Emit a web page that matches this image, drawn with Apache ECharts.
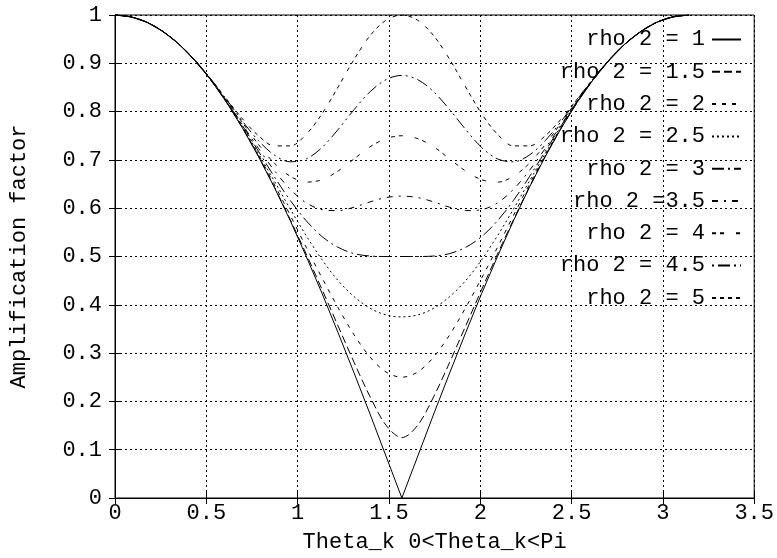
<!DOCTYPE html>
<html><head><meta charset="utf-8">
<script src="https://cdn.jsdelivr.net/npm/echarts@6/dist/echarts.min.js"></script>
<style>html,body{margin:0;padding:0;background:#fff}#c{width:777px;height:558px}</style>
</head><body><div id="c"></div>
<script>
// theta samples (radians, 0 .. pi)
const theta = [0, 0.0873, 0.1745, 0.2618, 0.3491, 0.4363, 0.5236, 0.6109, 0.6981, 0.7854, 0.8727, 0.9599, 1.0472, 1.1345, 1.2217, 1.3090, 1.3963, 1.4835, 1.5708, 1.6581, 1.7453, 1.8326, 1.9199, 2.0071, 2.0944, 2.1817, 2.2689, 2.3562, 2.4435, 2.5307, 2.6180, 2.7053, 2.7925, 2.8798, 2.9671, 3.0543, 3.1416];

const rho1  = [1, 0.996, 0.985, 0.966, 0.940, 0.906, 0.866, 0.819, 0.766, 0.707, 0.643, 0.574, 0.500, 0.423, 0.342, 0.259, 0.174, 0.087, 0, 0.087, 0.174, 0.259, 0.342, 0.423, 0.500, 0.574, 0.643, 0.707, 0.766, 0.819, 0.866, 0.906, 0.940, 0.966, 0.985, 0.996, 1];
const rho15 = [1, 0.996, 0.985, 0.966, 0.940, 0.906, 0.866, 0.819, 0.766, 0.708, 0.644, 0.576, 0.505, 0.431, 0.356, 0.281, 0.210, 0.151, 0.125, 0.151, 0.210, 0.281, 0.356, 0.431, 0.505, 0.576, 0.644, 0.708, 0.766, 0.819, 0.866, 0.906, 0.940, 0.966, 0.985, 0.996, 1];
const rho2  = [1, 0.996, 0.985, 0.966, 0.940, 0.906, 0.866, 0.820, 0.767, 0.710, 0.649, 0.585, 0.519, 0.455, 0.394, 0.338, 0.292, 0.261, 0.250, 0.261, 0.292, 0.338, 0.394, 0.455, 0.519, 0.585, 0.649, 0.710, 0.767, 0.820, 0.866, 0.906, 0.940, 0.966, 0.985, 0.996, 1];
const rho25 = [1, 0.996, 0.985, 0.966, 0.940, 0.906, 0.866, 0.820, 0.769, 0.713, 0.656, 0.598, 0.543, 0.493, 0.450, 0.417, 0.393, 0.379, 0.375, 0.379, 0.393, 0.417, 0.450, 0.493, 0.543, 0.598, 0.656, 0.713, 0.769, 0.820, 0.866, 0.906, 0.940, 0.966, 0.985, 0.996, 1];
const rho3  = [1, 0.996, 0.985, 0.966, 0.940, 0.906, 0.867, 0.821, 0.771, 0.718, 0.665, 0.616, 0.574, 0.541, 0.519, 0.506, 0.501, 0.500, 0.500, 0.500, 0.501, 0.506, 0.519, 0.541, 0.574, 0.616, 0.665, 0.718, 0.771, 0.821, 0.867, 0.906, 0.940, 0.966, 0.985, 0.996, 1];
const rho35 = [1, 0.996, 0.985, 0.966, 0.940, 0.907, 0.867, 0.822, 0.773, 0.724, 0.678, 0.639, 0.611, 0.597, 0.595, 0.602, 0.613, 0.622, 0.625, 0.622, 0.613, 0.602, 0.595, 0.597, 0.611, 0.639, 0.678, 0.724, 0.773, 0.822, 0.867, 0.907, 0.940, 0.966, 0.985, 0.996, 1];
const rho4  = [1, 0.996, 0.985, 0.966, 0.940, 0.907, 0.867, 0.823, 0.777, 0.732, 0.693, 0.666, 0.654, 0.659, 0.677, 0.702, 0.727, 0.744, 0.750, 0.744, 0.727, 0.702, 0.677, 0.659, 0.654, 0.666, 0.693, 0.732, 0.777, 0.823, 0.867, 0.907, 0.940, 0.966, 0.985, 0.996, 1];
const rho45 = [1, 0.996, 0.985, 0.966, 0.940, 0.907, 0.868, 0.825, 0.780, 0.740, 0.710, 0.696, 0.702, 0.726, 0.763, 0.804, 0.841, 0.866, 0.875, 0.866, 0.841, 0.804, 0.763, 0.726, 0.702, 0.696, 0.710, 0.740, 0.780, 0.825, 0.868, 0.907, 0.940, 0.966, 0.985, 0.996, 1];
const rho5  = [1, 0.996, 0.985, 0.966, 0.940, 0.907, 0.868, 0.826, 0.785, 0.750, 0.729, 0.729, 0.753, 0.796, 0.851, 0.908, 0.957, 0.989, 1, 0.989, 0.957, 0.908, 0.851, 0.796, 0.753, 0.729, 0.729, 0.750, 0.785, 0.826, 0.868, 0.907, 0.940, 0.966, 0.985, 0.996, 1];

const seriesNames = ['rho 2 = 1', 'rho 2 = 1.5', 'rho 2 = 2', 'rho 2 = 2.5', 'rho 2 = 3', 'rho 2 =3.5', 'rho 2 = 4', 'rho 2 = 4.5', 'rho 2 = 5'];
const seriesValues = [rho1, rho15, rho2, rho25, rho3, rho35, rho4, rho45, rho5];

const xTitle = 'Theta_k 0<Theta_k<Pi';
const yTitle = 'Amplification factor';

// line dash patterns (gnuplot-like)
const dashStyles = ['solid', [8, 4], [4, 6], [2, 3], [12, 4, 2, 4], [6, 6, 2, 6], [4, 4, 4, 12], [2, 4, 12, 4, 2, 4], [4, 4, 4, 4, 4, 4, 4, 8]];

const FONT = 'Liberation Mono';
const chart = echarts.init(document.getElementById('c'), null, {renderer: 'canvas'});

const series = seriesValues.map((vals, i) => ({
  name: seriesNames[i],
  type: 'line',
  data: theta.map((t, j) => [t, vals[j]]),
  symbol: 'none',
  smooth: i === 0 ? false : 0.33,
  lineStyle: { color: '#000', width: 1, type: dashStyles[i] },
  itemStyle: { color: '#000' },
  animation: false,
  z: 3
}));

const axisCommonX = { type: 'value', min: 0, max: 3.5, interval: 0.5 };
const axisCommonY = { type: 'value', min: 0, max: 1, interval: 0.1 };

chart.setOption({
  backgroundColor: '#fff',
  animation: false,
  grid: { left: 115, right: 22, top: 15, bottom: 60, show: true, borderColor: '#000', borderWidth: 1, backgroundColor: 'transparent' },
  legend: {
    data: seriesNames,
    orient: 'vertical',
    align: 'right',
    right: 35,
    top: 28.5,
    padding: 0,
    itemGap: 10.3,
    itemWidth: 29,
    itemHeight: 14,
    textStyle: { fontFamily: FONT, fontSize: 22, color: '#000', lineHeight: 22, padding: [0, 2, 0, 0] },
    itemStyle: { opacity: 0 },
    selectedMode: false
  },
  xAxis: [
    Object.assign({}, axisCommonX, {
      position: 'bottom',
      name: xTitle, nameLocation: 'middle', nameGap: 33,
      nameTextStyle: { fontFamily: FONT, fontSize: 22, color: '#000' },
      axisLine: { show: true, lineStyle: { color: '#000', width: 1 } },
      axisTick: { show: true, inside: true, length: 6, lineStyle: { color: '#000' } },
      axisLabel: { fontFamily: FONT, fontSize: 22, color: '#000', margin: 4 },
      splitLine: { show: true, lineStyle: { color: '#000', width: 1, type: [2, 3] } }
    }),
    Object.assign({}, axisCommonX, {
      position: 'top',
      axisLine: { show: true, lineStyle: { color: '#000', width: 1 } },
      axisTick: { show: true, inside: true, length: 6, lineStyle: { color: '#000' } },
      axisLabel: { show: false },
      splitLine: { show: false }
    })
  ],
  yAxis: [
    Object.assign({}, axisCommonY, {
      position: 'left',
      name: yTitle, nameLocation: 'middle', nameGap: 85, nameRotate: 90,
      nameTextStyle: { fontFamily: FONT, fontSize: 22, color: '#000' },
      axisLine: { show: true, lineStyle: { color: '#000', width: 1 } },
      axisTick: { show: true, inside: true, length: 6, lineStyle: { color: '#000' } },
      axisLabel: { fontFamily: FONT, fontSize: 22, color: '#000', margin: 13 },
      splitLine: { show: true, lineStyle: { color: '#000', width: 1, type: [2, 3] } }
    }),
    Object.assign({}, axisCommonY, {
      position: 'right',
      axisLine: { show: true, lineStyle: { color: '#000', width: 1 } },
      axisTick: { show: true, inside: true, length: 6, lineStyle: { color: '#000' } },
      axisLabel: { show: false },
      splitLine: { show: false }
    })
  ],
  series: series
});
</script>
</body></html>
